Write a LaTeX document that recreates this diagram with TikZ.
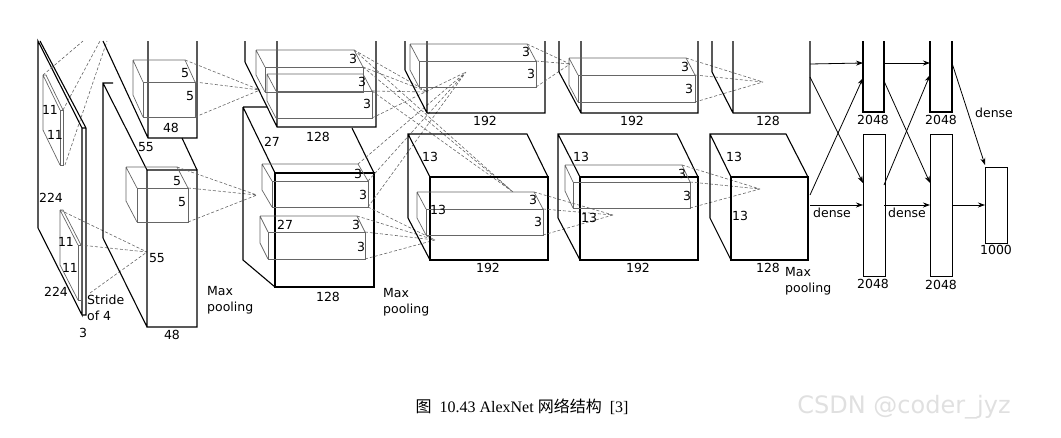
\documentclass[tikz,border=0pt]{standalone}
\usepackage{fontspec}
\setmainfont{Liberation Serif}
\newfontfamily\lab{DejaVu Sans}
\newfontfamily\cjk{Noto Sans CJK SC}
\usetikzlibrary{arrows.meta}
\newcommand\ibox[6]{% a b dx dy w h : back top-left, front offset, width, height
 \draw[inner] (#1,#2)--++(#5,0)--++(#3,#4) (#1,#2)--++(#3,#4)
   (#1,#2)--++(0,#6)--++(#3,#4);
 \draw[inner] (#1+#3,#2+#4) rectangle ++(#5,#6);}
\begin{document}
\begin{tikzpicture}[x=1pt,y=-1pt,
 blk/.style={line width=1.1pt,black},
 inner/.style={line width=0.7pt,black!60},
 dsh/.style={densely dashed,line width=0.6pt,black!60},
 arr/.style={-{Stealth[length=7pt,width=5pt]},line width=0.8pt},
 t/.style={font=\lab\fontsize{12.5}{12.5}\selectfont,inner sep=0pt},
 fc/.style={draw,line width=1.1pt,minimum width=22pt,inner sep=0pt}]
\useasboundingbox (0,0) rectangle (1061,437);
% ---- input
\draw[blk] (38,41)--(38,228)--(82,315)--(82,128)--cycle;
\draw[blk] (40,41)--(86,128)--(86,315)--(82,315) (82,128)--(86,128);
\ibox{43}{75}{17}{35}{3}{55}
\ibox{60}{210}{18}{35}{3}{55}
\node[t] at (50,110){11}; \node[t] at (55,135){11};
\node[t] at (51,198){224};
\node[t] at (66,242){11}; \node[t] at (70,268){11};
\node[t] at (56,292){224};
\node[t,anchor=west,align=left] at (87,308){Stride\\[4pt]of 4};
\node[t] at (83,333){3};
\coordinate (c1a) at (147,252);
\draw[dsh] (43,75)--(83,41) (63,110)--(100,41) (65,165)--(107,41);
\draw[dsh] (60,210)--(c1a) (80,245)--(c1a) (90,293)--(c1a);
% ---- conv1
\draw[blk] (103,41)--(148,138)--(197,138)--(197,41) (148,41)--(148,138);
\draw[blk] (103,238)--(103,83)--(113,83) (103,83)--(147,170) (182,138)--(197,170);
\draw[blk] (147,170) rectangle (197,327) (103,238)--(147,327);
\ibox{133}{60}{10}{22}{52}{35}
\ibox{126}{167}{11}{21}{51}{34}
\node[t] at (185,73){5}; \node[t] at (190,96){5}; \node[t] at (171,128){48};
\node[t] at (146,147){55}; \node[t] at (177,181){5}; \node[t] at (182,202){5};
\node[t] at (157,258){55}; \node[t] at (172,335){48};
\node[t,anchor=west,align=left] at (207,300){Max\\[4pt]pooling};
\coordinate (c2a) at (260,90); \coordinate (c2b) at (257,195);
\draw[dsh] (185,60)--(c2a) (195,82)--(c2a) (195,117)--(c2a);
\draw[dsh] (177,167)--(c2b) (188,188)--(c2b) (188,222)--(c2b);
% ---- conv2
\draw[blk] (245,41)--(245,62)--(277,127)--(376,127)--(376,41) (277,41)--(277,127);
\draw[blk] (243,107)--(243,260)--(275,287) (243,107)--(267,107) (243,107)--(275,173) (352,128)--(374,173);
\draw[blk] (275,173) rectangle (374,287);
\ibox{256}{50}{9}{17}{98}{25}
\ibox{267}{74}{9}{17}{96}{27}
\ibox{262}{164}{10}{17}{96}{26}
\ibox{260}{216}{8}{16}{97}{27}
\node[t] at (353,59){3}; \node[t] at (362,82){3}; \node[t] at (367,104){3};
\node[t] at (272,142){27}; \node[t] at (318,137){128};
\node[t] at (358,174){3}; \node[t] at (363,195){3};
\node[t] at (285,225){27}; \node[t] at (356,225){3}; \node[t] at (361,247){3};
\node[t] at (328,297){128};
\node[t,anchor=west,align=left] at (383,302){Max\\[4pt]pooling};
\coordinate (c3a) at (428,92); \coordinate (c3b) at (513,192);
\coordinate (c3c) at (466,72); \coordinate (c3d) at (435,240);
\draw[dsh] (354,50)--(c3a) (363,67)--(c3a) (372,91)--(c3a);
\draw[dsh] (354,50)--(c3b) (363,67)--(c3b) (372,91)--(c3b);
\draw[dsh] (358,164)--(c3c) (368,181)--(c3c) (368,207)--(c3c);
\draw[dsh] (357,216)--(c3d) (365,232)--(c3d) (365,259)--(c3d);
\draw[dsh] (372,118)--(c3c) (368,207)--(c3d);
% ---- conv3
\draw[blk] (405,41)--(405,70)--(427,113)--(545,113)--(545,41) (427,41)--(427,113);
\draw[blk] (408,218)--(408,134)--(527,134)--(548,177) (408,134)--(430,177) (408,218)--(430,260);
\draw[blk] (430,177) rectangle (548,260);
\ibox{410}{44}{9}{17}{117}{26}
\ibox{417}{192}{9}{17}{117}{26}
\node[t] at (526,52){3}; \node[t] at (531,74){3}; \node[t] at (485,121){192};
\node[t] at (430,157){13}; \node[t] at (438,210){13};
\node[t] at (533,200){3}; \node[t] at (538,222){3}; \node[t] at (488,268){192};
\coordinate (c4a) at (570,64); \coordinate (c4b) at (613,215);
\draw[dsh] (527,44)--(c4a) (536,61)--(c4a) (536,87)--(c4a);
\draw[dsh] (534,192)--(c4b) (543,209)--(c4b) (543,235)--(c4b);
% ---- conv4
\draw[blk] (559,41)--(559,72)--(581,113)--(698,113)--(698,41) (581,41)--(581,113);
\draw[blk] (558,218)--(558,134)--(677,134)--(698,177) (558,134)--(580,177) (558,218)--(580,260);
\draw[blk] (580,177) rectangle (698,260);
\ibox{569}{58}{9}{17}{117}{27}
\ibox{565}{165}{8}{17}{117}{26}
\node[t] at (685,67){3}; \node[t] at (689,89){3}; \node[t] at (632,121){192};
\node[t] at (581,157){13}; \node[t] at (589,218){13};
\node[t] at (682,174){3}; \node[t] at (687,196){3}; \node[t] at (638,268){192};
\coordinate (c5a) at (763,82); \coordinate (c5b) at (760,189);
\draw[dsh] (686,58)--(c5a) (695,75)--(c5a) (695,102)--(c5a);
\draw[dsh] (682,165)--(c5b) (690,182)--(c5b) (690,208)--(c5b);
% ---- conv5
\draw[blk] (712,41)--(712,72)--(733,113)--(810,113)--(810,41) (733,41)--(733,113);
\draw[blk] (710,218)--(710,134)--(786,134)--(808,177) (710,134)--(731,177) (710,218)--(731,260);
\draw[blk] (731,177) rectangle (808,260);
\node[t] at (768,121){128};
\node[t] at (734,157){13}; \node[t] at (740,216){13}; \node[t] at (768,268){128};
\node[t,anchor=west,align=left] at (785,281){Max\\[4pt]pooling};
% ---- dense
\draw[fc] (863,41)--(863,112)--(884,112)--(884,41);
\draw[fc] (930,41)--(930,112)--(952,112)--(952,41);
\node[fc,minimum height=142pt,anchor=north west] (f6b) at (863,134){};
\node[fc,minimum height=142pt,anchor=north west] (f7b) at (930,134){};
\node[fc,minimum height=76pt,anchor=north west] (f8) at (985,167){};
\coordinate (f6a) at (863,63); \coordinate (f7a) at (930,63);
\node[t] at (873,120){2048}; \node[t] at (941,120){2048};
\node[t] at (873,284){2048}; \node[t] at (941,285){2048};
\node[t] at (996,250){1000};
\node[t] at (832,213){dense}; \node[t] at (907,213){dense}; \node[t] at (994,113){dense};
\draw[arr] (810,64)--(f6a);
\draw[arr] (884,63)--(f7a);
\draw[arr] (810,77)--(863,183);
\draw[arr] (810,195)--(863,78);
\draw[arr] (810,205)--(863,205);
\draw[arr] (884,81)--(930,183);
\draw[arr] (884,185)--(930,75);
\draw[arr] (884,205)--(930,205);
\draw[arr] (952,63)--(985,165);
\draw[arr] (952,205)--(985,205);
% ---- caption
\node[inner sep=0pt,font=\fontsize{16}{16}\selectfont] (cap) at (522,407){{\cjk 图}\ \ 10.43 AlexNet {\cjk 网络结构}\ \ [3]};
\node[inner sep=0pt,font=\lab\fontsize{24}{24}\selectfont,text=black!12] (wm) at (904,407){CSDN @coder\_jyz};
\end{tikzpicture}
\end{document}
